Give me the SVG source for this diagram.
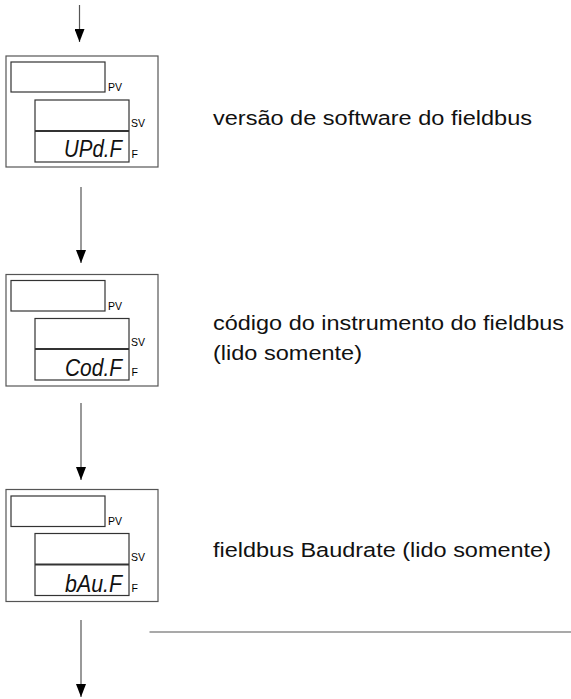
<svg xmlns="http://www.w3.org/2000/svg" width="571" height="699" viewBox="0 0 571 699">
<style>
.outer{fill:#fff;stroke:#555;stroke-width:1.2}
.inner{fill:#fff;stroke:#333;stroke-width:1.2}
.div{stroke:#333;stroke-width:2}
.lbl{font-family:"Liberation Sans",Arial,sans-serif;font-size:10.5px;fill:#000}
.seg{font-family:"Liberation Sans",Arial,sans-serif;font-style:italic;font-size:24px;fill:#111;text-anchor:end}
.desc{font-family:"Liberation Sans",Arial,sans-serif;font-size:20.5px;fill:#111}
.conn{stroke:#555;stroke-width:1.2;fill:none}
</style>
<defs>
<marker id="ah" viewBox="0 0 13 10" refX="13" refY="5" markerWidth="13" markerHeight="10" markerUnits="userSpaceOnUse" orient="auto">
<path d="M0,0 L13,5 L0,10 z" fill="#000"/>
</marker>
</defs>
<g id="connectors">
<line class="conn" x1="79.5" y1="5" x2="79.5" y2="42" marker-end="url(#ah)"/>
<line class="conn" x1="81" y1="187" x2="81" y2="263" marker-end="url(#ah)"/>
<line class="conn" x1="81" y1="403" x2="81" y2="480" marker-end="url(#ah)"/>
<line class="conn" x1="81" y1="620" x2="81" y2="697" marker-end="url(#ah)"/>
<line class="conn" x1="149.5" y1="632" x2="571" y2="632"/>
</g>
<g id="node-updf">
<rect class="outer" x="6" y="56" width="152" height="111"/>
<rect class="inner" x="11" y="62" width="94" height="30"/>
<text class="lbl" x="108" y="91">PV</text>
<rect class="inner" x="35" y="100" width="94" height="62"/>
<line class="div" x1="35" y1="131" x2="129" y2="131"/>
<text class="lbl" x="131" y="127">SV</text>
<text class="lbl" x="131.5" y="157.5">F</text>
<text class="seg" x="122" y="157" textLength="58" lengthAdjust="spacingAndGlyphs">UPd.F</text>
<text class="desc" x="213" y="125" textLength="319" lengthAdjust="spacingAndGlyphs">versão de software do fieldbus</text>
</g>
<g id="node-codf">
<rect class="outer" x="6" y="274.5" width="152" height="111.5"/>
<rect class="inner" x="11" y="280.5" width="94" height="30.5"/>
<text class="lbl" x="108" y="309.5">PV</text>
<rect class="inner" x="35" y="318.5" width="94" height="61.5"/>
<line class="div" x1="35" y1="349" x2="129" y2="349"/>
<text class="lbl" x="131" y="345.5">SV</text>
<text class="lbl" x="131.5" y="376">F</text>
<text class="seg" x="122" y="376" textLength="57" lengthAdjust="spacingAndGlyphs">Cod.F</text>
<text class="desc" x="213" y="330" textLength="351" lengthAdjust="spacingAndGlyphs">código do instrumento do fieldbus</text>
<text class="desc" x="213" y="359.5" textLength="149" lengthAdjust="spacingAndGlyphs">(lido somente)</text>
</g>
<g id="node-bauf">
<rect class="outer" x="6" y="489.5" width="152" height="112"/>
<rect class="inner" x="11" y="496" width="94" height="30.5"/>
<text class="lbl" x="108" y="525">PV</text>
<rect class="inner" x="35" y="533.5" width="94" height="62"/>
<line class="div" x1="35" y1="564.5" x2="129" y2="564.5"/>
<text class="lbl" x="131" y="561">SV</text>
<text class="lbl" x="131.5" y="591.5">F</text>
<text class="seg" x="122" y="591.5" textLength="57" lengthAdjust="spacingAndGlyphs">bAu.F</text>
<text class="desc" x="213" y="556.5" textLength="338" lengthAdjust="spacingAndGlyphs">fieldbus Baudrate (lido somente)</text>
</g>
</svg>
